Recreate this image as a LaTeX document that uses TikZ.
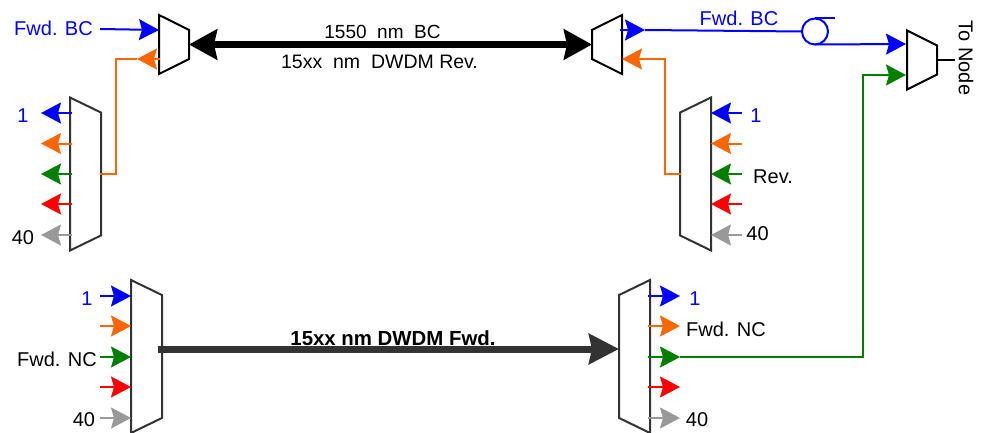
\documentclass[tikz,border=0pt]{standalone}
\usepackage{fontspec}
\setmainfont{Liberation Sans}
\usetikzlibrary{arrows.meta,shapes.geometric}
\definecolor{wdmblue}{HTML}{0000FF}
\definecolor{wdmorange}{HTML}{FF6600}
\definecolor{wdmgreen}{HTML}{007F00}
\definecolor{wdmred}{HTML}{FF0000}
\definecolor{wdmgray}{HTML}{999999}
\definecolor{wdmdark}{HTML}{333333}
\begin{document}
\begin{tikzpicture}[
		x=1pt, y=-1pt,
		mux/.style args={#1 and #2}{
				trapezium,
				draw=black,
				line width=2pt,
				fill=white,
				inner sep=1pt,
				outer sep=0pt,
				trapezium stretches=true,
				minimum width=#1,
				minimum height=#2,
			},
		small/.style={mux={59pt and 30pt}, trapezium left angle=62.7, trapezium right angle=62.7},
		bank/.style={mux={153pt and 31pt}, trapezium left angle=83, trapezium right angle=83, draw=wdmdark},
		channel/.style={
				line width=2pt,
				-{Stealth[length=20pt,width=21pt,inset=3pt]},
			},
		fiber/.style={line width=2pt},
		trunk/.style={
				line width=7pt,
				-{Stealth[length=30pt,width=30pt,inset=3pt]},
			},
		lbl/.style={font=\fontsize{20}{24}\selectfont, inner sep=0pt},
	]
	\useasboundingbox (0,0) rectangle (982,433);

	% muxes
	\node[small, shape border rotate=270] (MA) at (174,44.5) {};
	\node[small, shape border rotate=90] (MB) at (607,44.5) {};
	\node[small, shape border rotate=270] (ME) at (922,60) {};
	\node[bank, shape border rotate=270] (DL) at (85.5,174) {};
	\node[bank, shape border rotate=90] (DR) at (695.5,174) {};
	\node[bank, shape border rotate=270] (FL) at (146.5,356.5) {};
	\node[bank, shape border rotate=90] (FR) at (634.5,356.5) {};

	% top line
	\draw[trunk, black, {Stealth[length=28pt,width=30pt,inset=3pt]}-{Stealth[length=28pt,width=30pt,inset=3pt]}] (MA.east) -- (MB.west);
	\node[lbl, font=\fontsize{19}{23}\selectfont] (top1) at (382.5,32) {1550~~nm~~BC};
	\node[lbl, font=\fontsize{19.5}{23}\selectfont] (top2) at (379.5,62) {15xx~~nm~~DWDM Rev.};

	% bottom line
	\draw[trunk, wdmdark] (158,349) -- (619,349);
	\node[lbl, font=\fontsize{20.4}{24}\selectfont\bfseries] (bot1) at (393,338) {15xx nm DWDM Fwd.};

	% left bank, top
	\coordinate (a1) at (72,113);
	\coordinate (a2) at (72,143.5);
	\coordinate (a3) at (72,174);
	\coordinate (a4) at (72,204);
	\coordinate (a5) at (72,235);
	\coordinate (b1) at (41,113);
	\coordinate (b2) at (41,143.5);
	\coordinate (b3) at (41,174);
	\coordinate (b4) at (41,204);
	\coordinate (b5) at (41,235);
	\draw[channel, wdmblue] (a1) -- (b1);
	\draw[channel, wdmorange] (a2) -- (b2);
	\draw[channel, wdmgreen] (a3) -- (b3);
	\draw[channel, wdmred] (a4) -- (b4);
	\draw[channel, wdmgray] (a5) -- (b5);
	\node[lbl, text=wdmblue] (a1txt) at (23,116) {1};
	\node[lbl] (a5txt) at (23,238) {40};

	% right bank, top
	\coordinate (c1) at (742,113);
	\coordinate (c2) at (742,143.5);
	\coordinate (c3) at (742,174);
	\coordinate (c4) at (742,204);
	\coordinate (c5) at (742,235);
	\coordinate (d1) at (711,113);
	\coordinate (d2) at (711,143.5);
	\coordinate (d3) at (711,174);
	\coordinate (d4) at (711,204);
	\coordinate (d5) at (711,235);
	\draw[channel, wdmblue] (c1) -- (d1);
	\draw[channel, wdmorange] (c2) -- (d2);
	\draw[channel, wdmgreen] (c3) -- (d3);
	\draw[channel, wdmred] (c4) -- (d4);
	\draw[channel, wdmgray] (c5) -- (d5);
	\node[lbl, text=wdmblue] (c1txt) at (756,116) {1};
	\node[lbl] (c3txt) at (773,177) {Rev.};
	\node[lbl] (c5txt) at (757.5,234) {40};

	% left bank, bottom
	\coordinate (e1) at (100,296);
	\coordinate (e2) at (100,326);
	\coordinate (e3) at (100,357);
	\coordinate (e4) at (100,387);
	\coordinate (e5) at (100,418);
	\coordinate (f1) at (131,296);
	\coordinate (f2) at (131,326);
	\coordinate (f3) at (131,357);
	\coordinate (f4) at (131,387);
	\coordinate (f5) at (131,418);
	\draw[channel, wdmblue] (e1) -- (f1);
	\draw[channel, wdmorange] (e2) -- (f2);
	\draw[channel, wdmgreen] (e3) -- (f3);
	\draw[channel, wdmred] (e4) -- (f4);
	\draw[channel, wdmgray] (e5) -- (f5);
	\node[lbl, text=wdmblue] (e1txt) at (87,299) {1};
	\node[lbl] (e3txt) at (57,359) {Fwd. NC};
	\node[lbl] (e5txt) at (84,420) {40};

	% right bank, bottom
	\coordinate (g1) at (648,296);
	\coordinate (g2) at (648,326);
	\coordinate (g3) at (648,357);
	\coordinate (g4) at (648,387);
	\coordinate (g5) at (648,418);
	\coordinate (h1) at (680,296);
	\coordinate (h2) at (680,326);
	\coordinate (h3) at (680,357);
	\coordinate (h4) at (680,387);
	\coordinate (h5) at (680,418);
	\draw[channel, wdmblue] (g1) -- (h1);
	\draw[channel, wdmorange] (g2) -- (h2);
	\draw[channel, wdmgreen] (g3) -- (h3);
	\draw[channel, wdmred] (g4) -- (h4);
	\draw[channel, wdmgray] (g5) -- (h5);
	\node[lbl, text=wdmblue] (g1txt) at (695,299) {1};
	\node[lbl] (g2txt) at (726,329) {Fwd. NC};
	\node[lbl] (g5txt) at (697,420) {40};

	% left mux
	\coordinate (p1) at (100,29);
	\coordinate (p2) at (159,30);
	\coordinate (p3) at (160,59);
	\coordinate (p4) at (137,59);
	\coordinate (p5) at (100,174);
	\node[lbl, text=wdmblue] (p1txt) at (53.5,28) {Fwd. BC};
	\draw[channel, wdmblue] (p1) -- (p2);
	\draw[fiber, wdmorange] (p5) -- (116,174) -- (116,59) -- (p4);
	\draw[channel, wdmorange] (p3) -- (p4);

	% right mux
	\coordinate (q1) at (620,30);
	\coordinate (q2) at (645,30);
	\coordinate (q3) at (642,59);
	\coordinate (q4) at (622,59);
	\coordinate (q5) at (681,174);
	\node[lbl, text=wdmblue] (q1txt) at (739,18) {Fwd. BC};
	\draw[fiber, wdmorange] (q5) -- (665,174) -- (665,59) -- (q3);
	\draw[channel, wdmorange] (q3) -- (q4);
	\draw[channel, wdmblue] (q1) -- (q2);

	% fiber loop
	\node[circle, draw=wdmblue, line width=2pt, minimum size=26pt, inner sep=0pt, outer sep=0pt] (loop) at (815,31.5) {};
	\coordinate (r1) at (835,18.5);
	\coordinate (r2) at (906,44);
	\draw[fiber, wdmblue] (q2) -- (loop.west);
	\draw[fiber, wdmblue] (loop.north) -- (r1);
	\draw[channel, wdmblue] (loop.south) -- (r2);

	% node side
	\coordinate (s1) at (955,60);
	\coordinate (s2) at (906,75);
	\draw[fiber, black] (ME.east) -- (s1);
	\node[lbl, rotate=-90] (s1txt) at (966,58) {To Node};
	\draw[channel, wdmgreen] (h3) -- (863,357) -- (863,75) -- (s2);
\end{tikzpicture}
\end{document}
